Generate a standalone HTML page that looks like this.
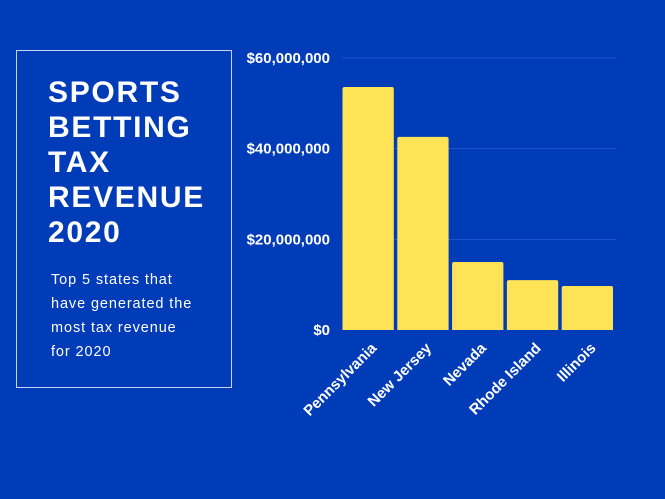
<!DOCTYPE html>
<html><head><meta charset="utf-8"><style>
html,body{margin:0;padding:0;}
body{width:665px;height:499px;background:#003bb8;position:relative;overflow:hidden;font-family:"Liberation Sans",Arial,sans-serif;}
#box{position:absolute;left:16px;top:50px;width:214px;height:336px;border:1.5px solid #c9d4f0;}
#title{position:absolute;left:48px;top:75px;color:#fff;font-weight:bold;font-size:30px;line-height:35px;letter-spacing:1.7px;margin:0;}
#sub{position:absolute;left:51px;top:268px;color:#fff;font-size:14.5px;line-height:24px;letter-spacing:0.9px;margin:0;}
svg{position:absolute;left:0;top:0;}
</style></head><body>
<div id="box"></div>
<h1 id="title">SPORTS<br>BETTING<br>TAX<br>REVENUE<br>2020</h1>
<p id="sub">Top 5 states that<br>have generated the<br>most tax revenue<br>for 2020</p>
<svg id="chart" width="665" height="499"></svg>
<script>
const categories=["Pennsylvania","New Jersey","Nevada","Rhode Island","Illinois"];
const values=[53600000,42600000,15000000,11000000,9700000];
const tickValues=[0,20000000,40000000,60000000];
const tickLabels=["$0","$20,000,000","$40,000,000","$60,000,000"];
const svg=document.getElementById('chart');
const NS='http://www.w3.org/2000/svg';
const x0=342,x1=616,yBase=330,yTop=58,maxV=60000000;
const y=v=>yBase-(v/maxV)*(yBase-yTop);
const band=(x1-x0)/categories.length;
const xb=i=>x0+i*band;
function mk(t,a){const e=document.createElementNS(NS,t);for(const k in a)e.setAttribute(k,a[k]);svg.appendChild(e);return e;}
tickValues.forEach((v,i)=>{
 if(v>0){const g=mk('line',{x1:x0,x2:x1,y1:y(v),y2:y(v),stroke:'#1f56c8','stroke-width':1});
 
 }
 const t=mk('text',{x:330,y:y(v)+5,'text-anchor':'end',fill:'#fff','font-size':15,'font-weight':'bold','font-family':'Liberation Sans, Arial, sans-serif'});
 t.textContent=tickLabels[i];
 
 
});
categories.forEach((c,i)=>{
 const bx=xb(i)+0.5,bw=band-3.5;
 const r=mk('path',{d:`M${bx},${yBase} V${y(values[i])+2} Q${bx},${y(values[i])} ${bx+2},${y(values[i])} H${bx+bw-2} Q${bx+bw},${y(values[i])} ${bx+bw},${y(values[i])+2} V${yBase} Z`,fill:'#ffe357'});
 
 
 const cx=xb(i)+band/2+8,cy=349;
 const t=mk('text',{x:cx,y:cy,'text-anchor':'end',fill:'#fff','font-size':15,'font-weight':'bold','font-family':'Liberation Sans, Arial, sans-serif',transform:`rotate(-45 ${cx} ${cy})`});
 t.textContent=c;
 
 
});
</script>
</body></html>
